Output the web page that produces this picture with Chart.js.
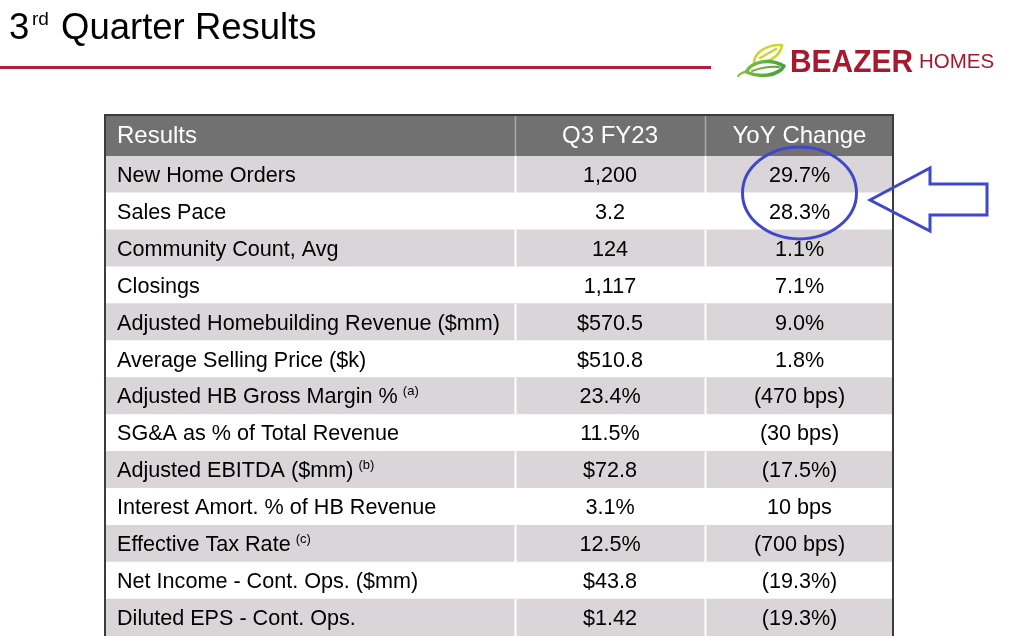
<!DOCTYPE html>
<html>
<head>
<meta charset="utf-8">
<script src="https://cdn.jsdelivr.net/npm/chart.js@4.4.0/dist/chart.umd.min.js"></script>
<style>
  html, body { margin: 0; padding: 0; background: #fff; }
  #wrap { position: relative; width: 1022px; height: 636px; }
</style>
</head>
<body>
<div id="wrap"><canvas id="resultsTable"></canvas></div>
<script>
const columnHeaders = ["Results", "Q3 FY23", "YoY Change"];
const metrics = [
  "New Home Orders",
  "Sales Pace",
  "Community Count, Avg",
  "Closings",
  "Adjusted Homebuilding Revenue ($mm)",
  "Average Selling Price ($k)",
  "Adjusted HB Gross Margin %",
  "SG&A as % of Total Revenue",
  "Adjusted EBITDA ($mm)",
  "Interest Amort. % of HB Revenue",
  "Effective Tax Rate",
  "Net Income - Cont. Ops. ($mm)",
  "Diluted EPS - Cont. Ops."
];
const metricNotes = ["", "", "", "", "", "", "(a)", "", "(b)", "", "(c)", "", ""];
const q3Values = ["1,200", "3.2", "124", "1,117", "$570.5", "$510.8", "23.4%", "11.5%", "$72.8", "3.1%", "12.5%", "$43.8", "$1.42"];
const yoyChange = ["29.7%", "28.3%", "1.1%", "7.1%", "9.0%", "1.8%", "(470 bps)", "(30 bps)", "(17.5%)", "10 bps", "(700 bps)", "(19.3%)", "(19.3%)"];
const highlightedRows = [0, 1];

// column boundaries on the x scale (table units)
const colEdges = [0, 411, 601, 790];

const FONT = "'Liberation Sans', Arial, sans-serif";
const ROW_GREY = "#d9d5d8";
const HEADER_GREY = "#717171";
const BRAND_RED = "#a6192e";

const tablePlugin = {
  id: "tablePlugin",
  beforeDatasetsDraw(chart) {
    const { ctx, chartArea } = chart;
    // header band
    ctx.save();
    ctx.fillStyle = HEADER_GREY;
    ctx.fillRect(chartArea.left, 115, chartArea.right - chartArea.left, chartArea.top - 115);
    ctx.restore();
  },
  afterDatasetsDraw(chart) {
    const { ctx, chartArea, scales } = chart;
    const x = scales.x, y = scales.y;
    const rowH = y.getPixelForValue(1) - y.getPixelForValue(0);

    ctx.save();
    // column dividers (visible on header and grey rows only)
    [colEdges[1], colEdges[2]].forEach(edge => {
      const px = Math.round(x.getPixelForValue(edge)) + 0.5;
      ctx.strokeStyle = "#a9a9a9";
      ctx.lineWidth = 1.5;
      ctx.beginPath(); ctx.moveTo(px, 115); ctx.lineTo(px, chartArea.top); ctx.stroke();
      metrics.forEach((m, i) => {
        if (i % 2 !== 0) return;
        const cy = y.getPixelForValue(i);
        ctx.strokeStyle = "#ffffff";
        ctx.lineWidth = 2;
        ctx.beginPath(); ctx.moveTo(px, cy - rowH / 2); ctx.lineTo(px, cy + rowH / 2); ctx.stroke();
      });
    });

    // outer border
    ctx.strokeStyle = "#3c3c3c";
    ctx.lineWidth = 2;
    ctx.beginPath();
    ctx.moveTo(chartArea.left + 1, chartArea.bottom + 2);
    ctx.lineTo(chartArea.left + 1, 115);
    ctx.lineTo(chartArea.right - 1, 115);
    ctx.lineTo(chartArea.right - 1, chartArea.bottom + 2);
    ctx.stroke();

    const colCenter = c => (x.getPixelForValue(colEdges[c]) + x.getPixelForValue(colEdges[c + 1])) / 2;
    const textLeft = x.getPixelForValue(colEdges[0]) + 13;

    // header text
    const headY = (115 + chartArea.top) / 2 + 1;
    ctx.fillStyle = "#ffffff";
    ctx.font = "24px " + FONT;
    ctx.textBaseline = "middle";
    ctx.textAlign = "left";
    ctx.fillText(columnHeaders[0], textLeft, headY);
    ctx.textAlign = "center";
    ctx.fillText(columnHeaders[1], colCenter(1), headY);
    ctx.fillText(columnHeaders[2], colCenter(2), headY);

    // body text
    ctx.fillStyle = "#000000";
    metrics.forEach((m, i) => {
      const cy = y.getPixelForValue(i) + 1.5;
      ctx.font = "21.6px " + FONT;
      ctx.textAlign = "left";
      ctx.fillText(m, textLeft, cy);
      if (metricNotes[i]) {
        const w = ctx.measureText(m).width + 5;
        ctx.font = "13px " + FONT;
        ctx.fillText(metricNotes[i], textLeft + w, cy - 6);
        ctx.font = "21.6px " + FONT;
      }
      ctx.textAlign = "center";
      ctx.fillText(q3Values[i], colCenter(1), cy);
      ctx.fillText(yoyChange[i], colCenter(2), cy);
    });

    // highlight ellipse around YoY rows + arrow
    const hy = (y.getPixelForValue(highlightedRows[0]) + y.getPixelForValue(highlightedRows[highlightedRows.length - 1])) / 2;
    const hx = colCenter(2);
    ctx.strokeStyle = "#3f47cc";
    ctx.lineWidth = 3;
    ctx.beginPath();
    ctx.ellipse(hx, hy, 57, 46, 0, 0, Math.PI * 2);
    ctx.stroke();

    ctx.beginPath();
    ctx.moveTo(870, 200);
    ctx.lineTo(930, 168);
    ctx.lineTo(930, 184);
    ctx.lineTo(987, 184);
    ctx.lineTo(987, 215);
    ctx.lineTo(930, 215);
    ctx.lineTo(930, 231);
    ctx.closePath();
    ctx.stroke();
    ctx.restore();
  },
  beforeDraw(chart) {
    const { ctx } = chart;
    ctx.save();
    // slide title
    ctx.fillStyle = "#000000";
    ctx.textBaseline = "alphabetic";
    ctx.textAlign = "left";
    ctx.font = "36.5px " + FONT;
    ctx.fillText("3", 9, 39);
    ctx.font = "19px " + FONT;
    ctx.fillText("rd", 32, 25);
    ctx.font = "36.5px " + FONT;
    ctx.fillText("Quarter Results", 61, 39);

    // red rule
    ctx.fillStyle = "#ad1f37";
    ctx.fillRect(0, 66, 711, 3);

    // logo leaf: yellow sprout
    ctx.lineCap = "round";
    ctx.lineJoin = "round";
    ctx.strokeStyle = "#c8d82a";
    ctx.lineWidth = 2.5;
    ctx.beginPath();
    ctx.moveTo(754, 63);
    ctx.bezierCurveTo(754, 52, 768, 44, 782, 45);
    ctx.bezierCurveTo(781, 54, 772, 61, 762, 62);
    ctx.stroke();
    ctx.beginPath();
    ctx.moveTo(760, 58);
    ctx.lineTo(776, 49);
    ctx.stroke();

    // green leaf outline
    const grad = ctx.createLinearGradient(740, 58, 786, 78);
    grad.addColorStop(0, "#8cc63f");
    grad.addColorStop(1, "#3a9a3c");
    ctx.strokeStyle = grad;
    ctx.lineWidth = 3.5;
    ctx.beginPath();
    ctx.moveTo(746, 72);
    ctx.bezierCurveTo(752, 61, 770, 58, 784, 66);
    ctx.bezierCurveTo(778, 76, 760, 78, 746, 72);
    ctx.closePath();
    ctx.stroke();
    ctx.lineWidth = 2;
    ctx.beginPath();
    ctx.moveTo(752, 71);
    ctx.quadraticCurveTo(766, 66, 779, 67);
    ctx.stroke();
    ctx.beginPath();
    ctx.moveTo(738, 76);
    ctx.quadraticCurveTo(742, 72, 748, 71);
    ctx.stroke();

    // logo words
    ctx.fillStyle = BRAND_RED;
    ctx.font = "bold 31px " + FONT;
    ctx.fillText("BEAZER", 790, 72, 123);
    ctx.font = "20.5px " + FONT;
    ctx.fillText("HOMES", 919, 68, 79);
    ctx.restore();
  }
};

new Chart(document.getElementById("resultsTable").getContext("2d"), {
  type: "bar",
  data: {
    labels: metrics,
    datasets: [{
      label: "rows",
      data: metrics.map(() => [colEdges[0], colEdges[colEdges.length - 1]]),
      backgroundColor: ctx => ctx.dataIndex % 2 === 0 ? ROW_GREY : "#ffffff",
      borderWidth: 0,
      barPercentage: 1,
      categoryPercentage: 1
    }]
  },
  options: {
    indexAxis: "y",
    responsive: true,
    maintainAspectRatio: false,
    animation: false,
    events: [],
    layout: { padding: { left: 104, right: 128, top: 156, bottom: 0 } },
    scales: {
      x: { display: false, min: colEdges[0], max: colEdges[colEdges.length - 1] },
      y: { display: false }
    },
    plugins: {
      legend: { display: false },
      tooltip: { enabled: false }
    }
  },
  plugins: [tablePlugin]
});
</script>
</body>
</html>
